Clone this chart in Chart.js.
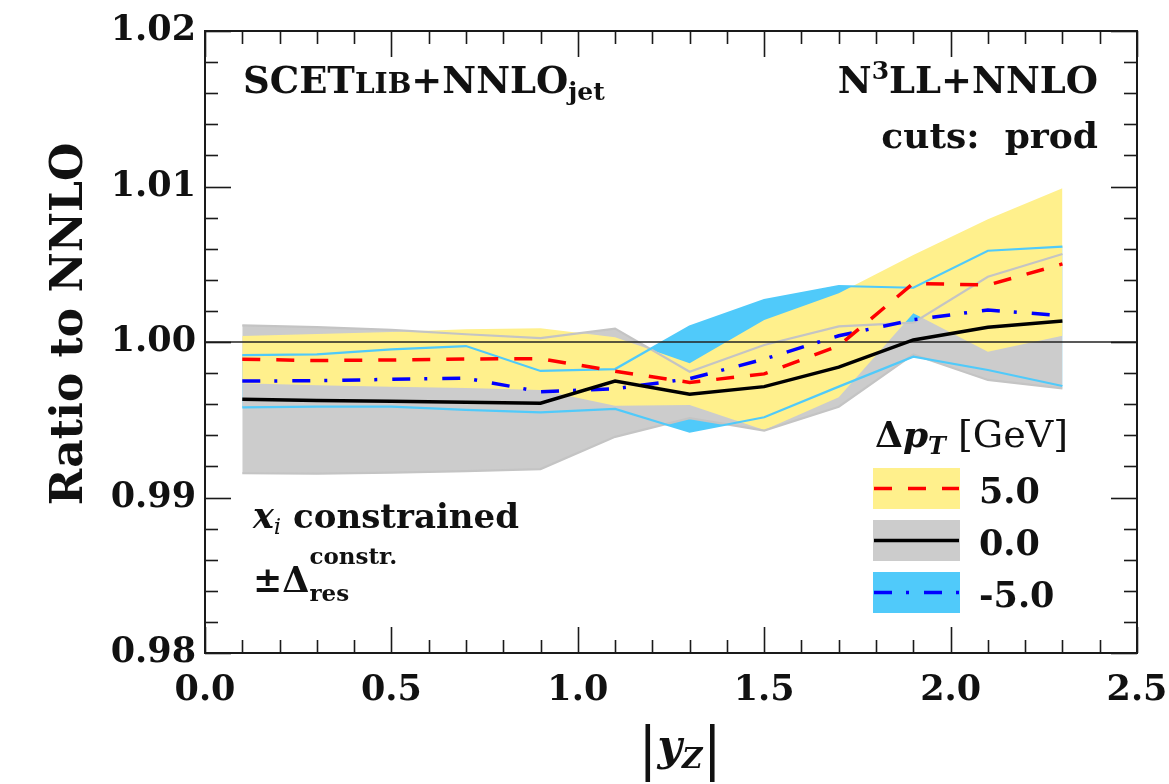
<!DOCTYPE html>
<html>
<head>
<meta charset="utf-8">
<script src="https://cdn.jsdelivr.net/npm/chart.js@4.4.1/dist/chart.umd.min.js"></script>
<style>
  html, body { margin: 0; padding: 0; background: #ffffff; }
  #wrap { width: 1169px; height: 784px; }
</style>
</head>
<body>
<div id="wrap"><canvas id="myChart" width="1169" height="784"></canvas></div>
<script>
// |y_Z| bin centres
var yZ = [0.1, 0.3, 0.5, 0.7, 0.9, 1.1, 1.3, 1.5, 1.7, 1.9, 2.1, 2.3];

// Delta pT = 5.0 GeV (yellow band, red dashed)
var ratioPlus5 = [0.99889, 0.99881, 0.99884, 0.99891, 0.99893, 0.99812, 0.99740, 0.99795, 0.99976, 1.00377, 1.00366, 1.00502];
var bandPlus5Lo = [0.99734, 0.99722, 0.99713, 0.99704, 0.99691, 0.99590, 0.99595, 0.99434, 0.99644, 1.00185, 0.99938, 1.00040];
var bandPlus5Hi = [1.00039, 1.00051, 1.00064, 1.00082, 1.00088, 1.00030, 0.99863, 1.00141, 1.00313, 1.00560, 1.00789, 1.00988];

// Delta pT = 0.0 GeV (gray band, black solid)
var ratio0 = [0.99632, 0.99623, 0.99619, 0.99612, 0.99606, 0.99749, 0.99664, 0.99713, 0.99838, 1.00013, 1.00095, 1.00135];
var band0Lo = [0.99156, 0.99154, 0.99160, 0.99169, 0.99183, 0.99390, 0.99510, 0.99430, 0.99584, 0.99920, 0.99756, 0.99702];
var band0Hi = [1.00107, 1.00096, 1.00078, 1.00050, 1.00025, 1.00086, 0.99809, 0.99981, 1.00100, 1.00125, 1.00420, 1.00566];

// Delta pT = -5.0 GeV (cyan band, blue dash-dot)
var ratioMinus5 = [0.99749, 0.99751, 0.99760, 0.99767, 0.99680, 0.99699, 0.99764, 0.99890, 1.00040, 1.00143, 1.00206, 1.00169];
var bandMinus5Lo = [0.99580, 0.99584, 0.99584, 0.99563, 0.99548, 0.99570, 0.99423, 0.99516, 0.99713, 0.99906, 0.99820, 0.99717];
var bandMinus5Hi = [0.99916, 0.99921, 0.99953, 0.99974, 0.99814, 0.99826, 1.00099, 1.00270, 1.00360, 1.00349, 1.00587, 1.00613];

var legendLabels = ['5.0', '0.0', '-5.0'];
var refRatio = 1.0;
var xMin = 0, xMax = 2.5, yMin = 0.98, yMax = 1.02;

var YELLOW = 'rgb(255,240,140)';
var GRAY = 'rgb(204,204,204)';
var CYAN = 'rgb(80,202,250)';
var GRAYLINE = 'rgb(196,196,196)';

function pts(arr) {
  return arr.map(function(v, i) { return { x: yZ[i], y: v }; });
}

var SERIF = '"DejaVu Serif", serif';
var F = function(style, size) { return style + ' ' + size + 'px ' + SERIF; };

function drawRuns(ctx, x, y, runs, align) {
  var w = 0;
  runs.forEach(function(r) {
    ctx.font = r.font;
    if (!r.stack) w += ctx.measureText(r.t).width;
  });
  var cx = align === 'right' ? x - w : x;
  runs.forEach(function(r) {
    ctx.font = r.font;
    ctx.fillText(r.t, cx, y + (r.dy || 0));
    if (!r.stack) cx += ctx.measureText(r.t).width;
  });
}

// frame with inward ticks on all four sides
var framePlugin = {
  id: 'frame',
  afterDatasetsDraw: function(chart) {
    var ctx = chart.ctx, a = chart.chartArea, xs = chart.scales.x, ys = chart.scales.y;
    ctx.save();
    ctx.strokeStyle = '#1a1a1a';
    ctx.lineWidth = 1.6;
    function seg(x1, y1, x2, y2) { ctx.beginPath(); ctx.moveTo(x1, y1); ctx.lineTo(x2, y2); ctx.stroke(); }
    var i, p, len;
    for (i = 0; i <= 25; i++) {
      p = Math.round(xs.getPixelForValue(xMin + i * 0.1)) + 0.5;
      len = i % 5 === 0 ? 26 : 13;
      seg(p, a.bottom, p, a.bottom - len);
      seg(p, a.top, p, a.top + len);
    }
    for (i = 0; i <= 20; i++) {
      p = Math.round(ys.getPixelForValue(yMin + i * 0.002)) + 0.5;
      len = i % 5 === 0 ? 26 : 13;
      seg(a.left, p, a.left + len, p);
      seg(a.right, p, a.right - len, p);
    }
    ctx.lineWidth = 2;
    ctx.strokeRect(a.left, a.top, a.right - a.left, a.bottom - a.top);
    ctx.restore();
  }
};

// text labels, custom legend and axis titles
var textPlugin = {
  id: 'texts',
  afterDraw: function(chart) {
    var ctx = chart.ctx;
    ctx.save();
    ctx.fillStyle = '#111';
    ctx.textBaseline = 'alphabetic';
    ctx.textAlign = 'left';

    drawRuns(ctx, 243, 93, [
      { t: 'SCET', font: F('bold', 37) },
      { t: 'LIB', font: F('bold', 28) },
      { t: '+NNLO', font: F('bold', 37) },
      { t: 'jet', font: F('bold', 25), dy: 7 }
    ]);
    drawRuns(ctx, 1098, 93, [
      { t: 'N', font: F('bold', 37) },
      { t: '3', font: F('bold', 25), dy: -14 },
      { t: 'LL+NNLO', font: F('bold', 37) }
    ], 'right');
    drawRuns(ctx, 1098, 148, [{ t: 'cuts:  prod', font: F('bold', 36) }], 'right');

    drawRuns(ctx, 253, 528, [
      { t: 'x', font: F('bold italic', 35) },
      { t: 'i', font: F('italic', 23), dy: 6 },
      { t: ' constrained', font: F('bold', 34) }
    ]);
    drawRuns(ctx, 253, 592, [
      { t: '\u00B1\u0394', font: F('bold', 35) },
      { t: 'constr.', font: F('bold', 23), dy: -28, stack: true },
      { t: 'res', font: F('bold', 23), dy: 9 }
    ]);

    // legend
    drawRuns(ctx, 875, 447, [
      { t: '\u0394', font: F('bold', 36) },
      { t: 'p', font: F('bold italic', 36) },
      { t: 'T', font: F('bold italic', 24), dy: 7 },
      { t: ' [GeV]', font: F('normal', 38) }
    ]);
    var ds = chart.data.datasets;
    var entries = [
      { fill: ds[5].backgroundColor, line: ds[14] },
      { fill: ds[3].backgroundColor, line: ds[13] },
      { fill: ds[1].backgroundColor, line: ds[12] }
    ];
    var top0 = 468, step = 52, bw = 87, bh = 41, bx = 873;
    entries.forEach(function(e, k) {
      var ty = top0 + k * step;
      ctx.fillStyle = e.fill;
      ctx.fillRect(bx, ty, bw, bh);
      ctx.strokeStyle = e.line.borderColor;
      ctx.lineWidth = 3.5;
      ctx.setLineDash(e.line.borderDash || []);
      ctx.beginPath();
      ctx.moveTo(bx + 1, ty + bh / 2);
      ctx.lineTo(bx + bw - 1, ty + bh / 2);
      ctx.stroke();
      ctx.setLineDash([]);
      ctx.fillStyle = '#111';
      drawRuns(ctx, 979, ty + 35, [{ t: legendLabels[k], font: F('bold', 35) }]);
    });

    // axis titles
    drawRuns(ctx, 638, 760, [
      { t: '|', font: F('normal', 58), dy: 8 },
      { t: 'y', font: F('bold italic', 42) },
      { t: 'Z', font: F('bold italic', 28), dy: 8 },
      { t: '|', font: F('normal', 58), dy: 8 }
    ]);
    ctx.translate(82, 324);
    ctx.rotate(-Math.PI / 2);
    ctx.textAlign = 'center';
    ctx.font = F('bold', 44);
    ctx.fillText('Ratio to NNLO', 0, 0);
    ctx.restore();
  }
};

var noLine = { borderWidth: 0, pointRadius: 0, borderColor: 'rgba(0,0,0,0)' };
function ds(o) { return Object.assign({ pointRadius: 0, tension: 0, fill: false }, o); }

var datasets = [
  ds(Object.assign({ label: 'minus5 lo', data: pts(bandMinus5Lo), order: 101 }, noLine)),
  ds(Object.assign({ label: 'minus5 hi', data: pts(bandMinus5Hi), order: 100, fill: 0, backgroundColor: CYAN }, noLine)),
  ds(Object.assign({ label: 'zero lo', data: pts(band0Lo), order: 91 }, noLine)),
  ds(Object.assign({ label: 'zero hi', data: pts(band0Hi), order: 90, fill: 2, backgroundColor: GRAY }, noLine)),
  ds(Object.assign({ label: 'plus5 lo', data: pts(bandPlus5Lo), order: 81 }, noLine)),
  ds(Object.assign({ label: 'plus5 hi', data: pts(bandPlus5Hi), order: 80, fill: 4, backgroundColor: YELLOW }, noLine)),
  ds({ label: 'zero edge lo', data: pts(band0Lo), order: 61, borderColor: GRAYLINE, borderWidth: 2.2 }),
  ds({ label: 'zero edge hi', data: pts(band0Hi), order: 60, borderColor: GRAYLINE, borderWidth: 2.2 }),
  ds({ label: 'minus5 edge lo', data: pts(bandMinus5Lo), order: 51, borderColor: CYAN, borderWidth: 2.2 }),
  ds({ label: 'minus5 edge hi', data: pts(bandMinus5Hi), order: 50, borderColor: CYAN, borderWidth: 2.2 }),
  ds({ label: 'reference', data: [{ x: xMin, y: refRatio }, { x: xMax, y: refRatio }], order: 40, borderColor: '#222', borderWidth: 1.4 }),
  ds({ label: 'spare', data: [], order: 39, borderWidth: 0 }),
  ds({ label: '-5.0', data: pts(ratioMinus5), order: 3, borderColor: '#0000ff', borderWidth: 3.5, borderDash: [18, 14, 3, 15] }),
  ds({ label: '0.0', data: pts(ratio0), order: 2, borderColor: '#000000', borderWidth: 3.5 }),
  ds({ label: '5.0', data: pts(ratioPlus5), order: 1, borderColor: '#ff0000', borderWidth: 3.5, borderDash: [18, 16] })
];

var tickFont = { family: SERIF, size: 35, weight: 'bold' };

new Chart(document.getElementById('myChart'), {
  type: 'line',
  data: { datasets: datasets },
  options: {
    responsive: false,
    animation: false,
    events: [],
    layout: { padding: { top: 31, right: 32, left: 0, bottom: 0 } },
    plugins: { legend: { display: false }, tooltip: { enabled: false } },
    scales: {
      x: {
        type: 'linear', min: xMin, max: xMax,
        grid: { display: false, drawTicks: false },
        border: { display: false },
        ticks: { stepSize: 0.5, color: '#111', font: tickFont, padding: 17, maxRotation: 0,
                 callback: function(v) { return v.toFixed(1); } },
        afterFit: function(s) { s.height = 131; s.paddingLeft = 0; s.paddingRight = 0; }
      },
      y: {
        type: 'linear', min: yMin, max: yMax,
        grid: { display: false, drawTicks: false },
        border: { display: false },
        ticks: { stepSize: 0.01, color: '#111', font: tickFont, padding: 9,
                 callback: function(v) { return v.toFixed(2); } },
        afterFit: function(s) { s.width = 205; s.paddingTop = 0; s.paddingBottom = 0; }
      }
    }
  },
  plugins: [framePlugin, textPlugin]
});
</script>
</body>
</html>
